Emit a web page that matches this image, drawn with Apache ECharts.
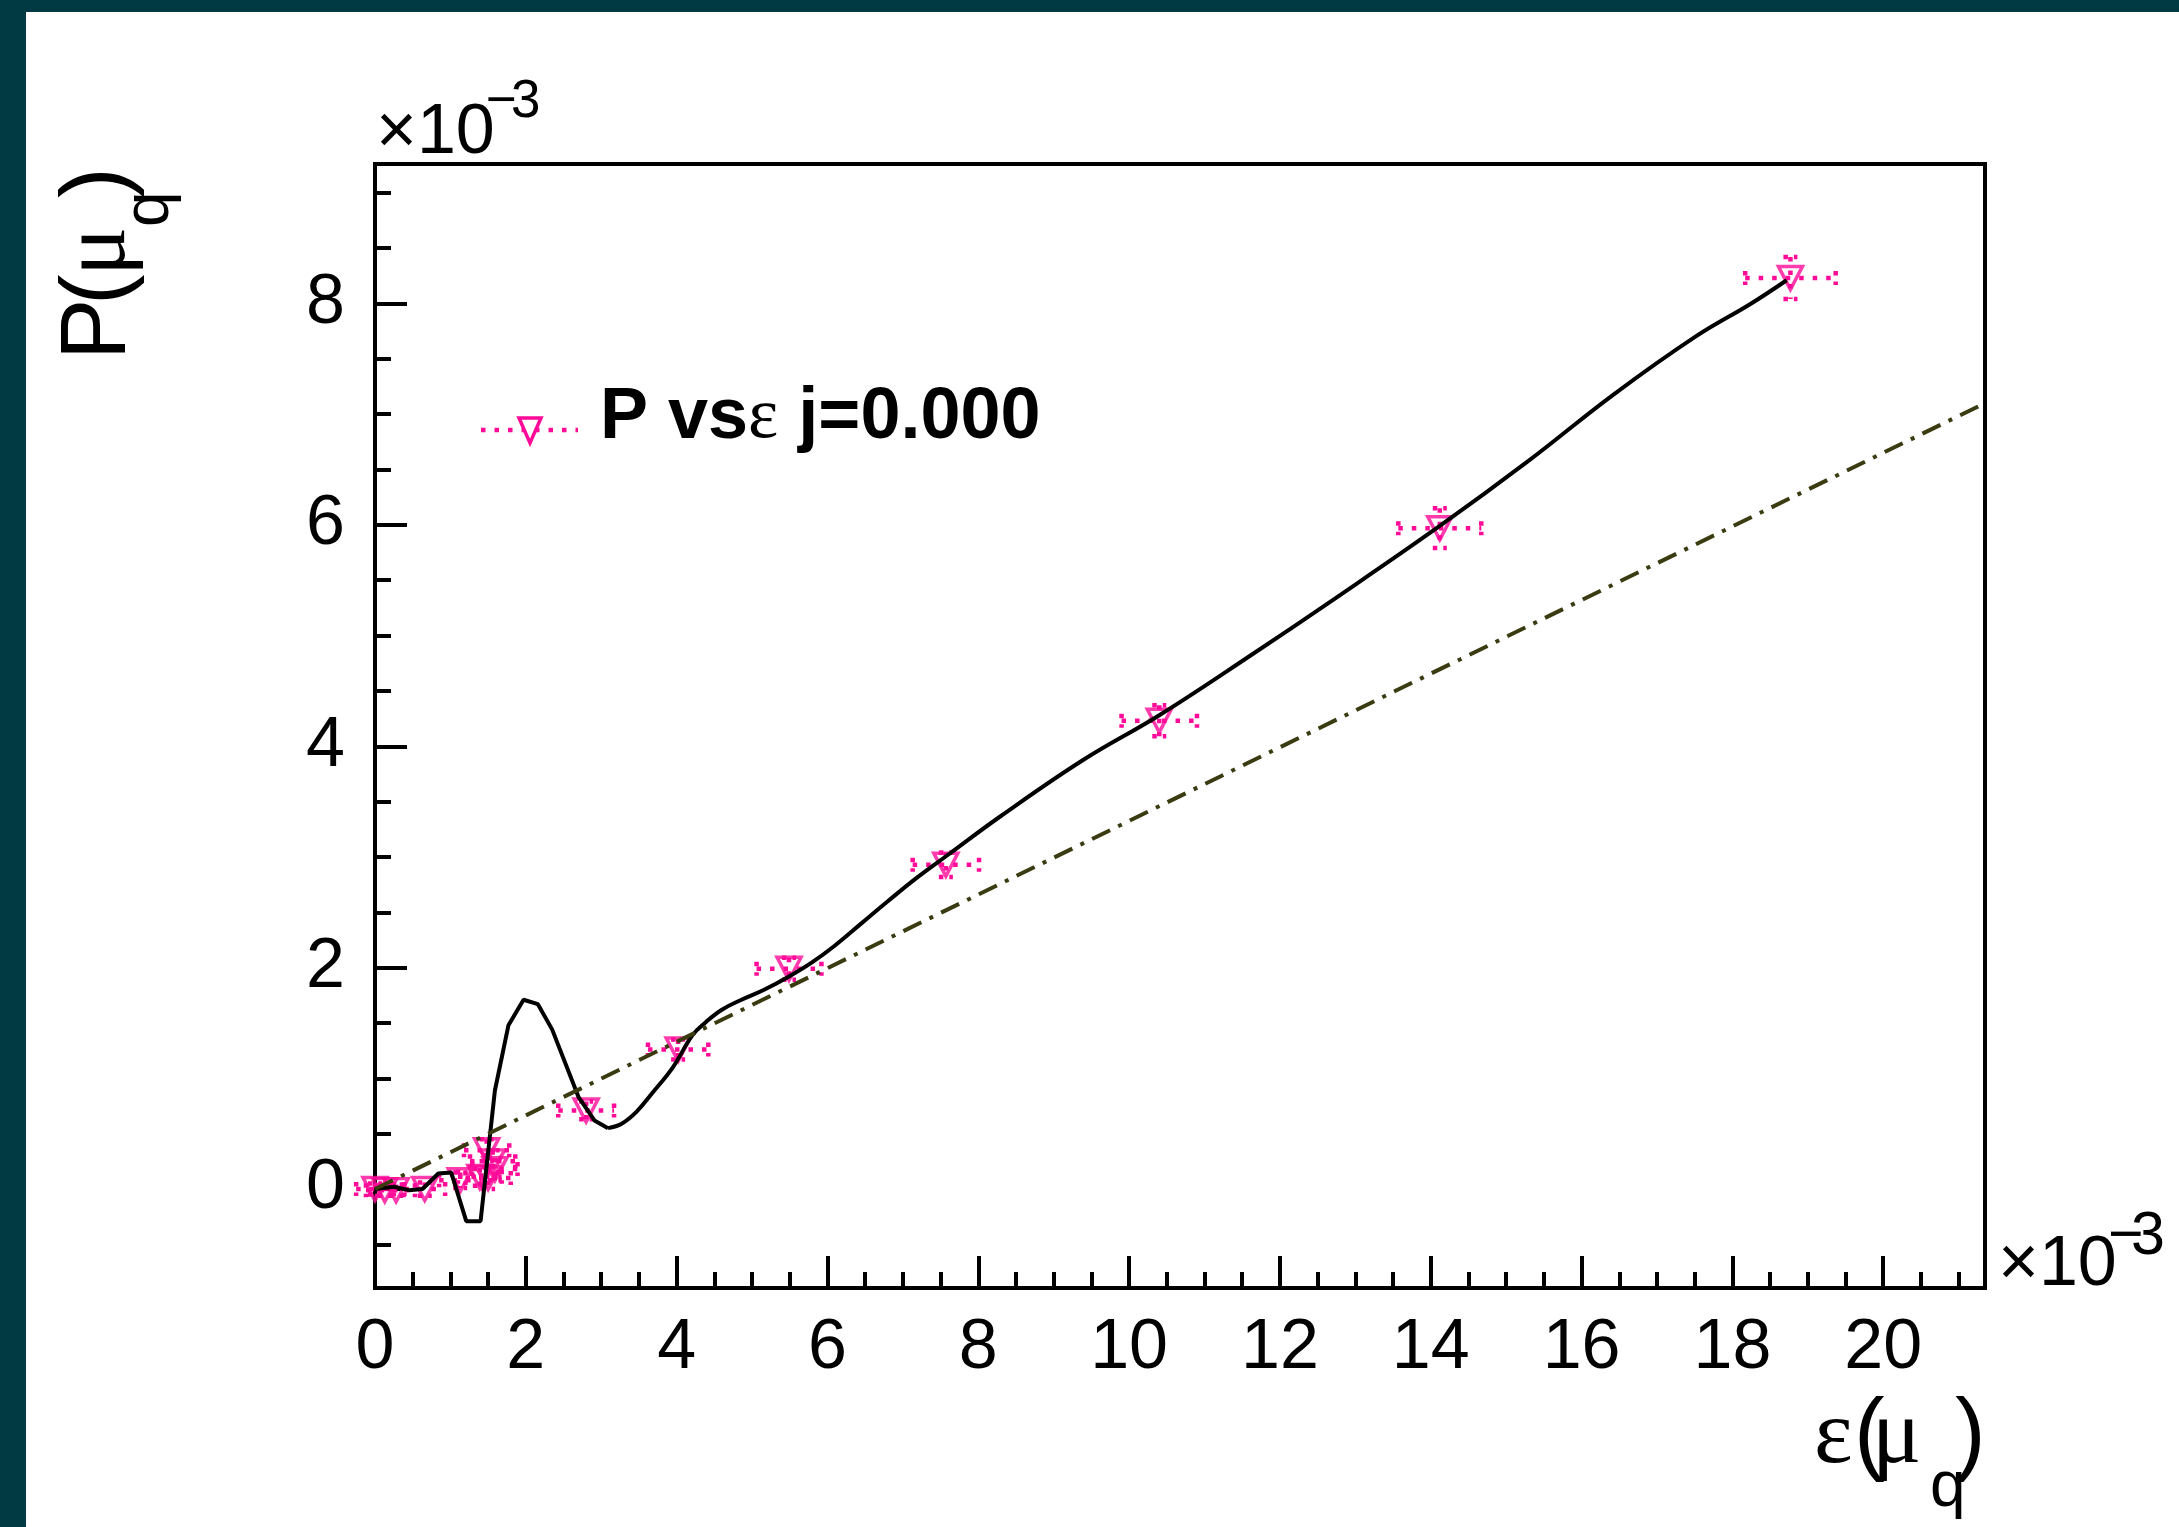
<!DOCTYPE html>
<html><head><meta charset="utf-8">
<script src="https://cdn.jsdelivr.net/npm/echarts@6/dist/echarts.min.js"></script>
<style>html,body{margin:0;padding:0;background:#fff;} #c{width:2179px;height:1527px;}</style>
</head><body><div id="c"></div>
<script>
// ---- data ----
const xMajorTicks = [0, 2, 4, 6, 8, 10, 12, 14, 16, 18, 20];
const yMajorTicks = [0, 2, 4, 6, 8];
const xRange = [0, 21.35];
const yRange = [-0.894, 9.26];

const curveX = [0.00, 0.25, 0.45, 0.63, 0.84, 1.01, 1.21, 1.40, 1.59, 1.77, 1.97, 2.16, 2.35, 2.70, 2.91, 3.09, 3.27, 3.47, 3.68, 3.95, 4.21, 4.39, 4.60, 4.86, 5.16, 5.49, 5.80, 6.10, 6.45, 6.80, 7.20, 7.60, 8.30, 9.40, 10.40, 11.61, 12.72, 14.12, 15.30, 16.41, 17.51, 18.25, 18.72];
const curveY = [0.00, 0.02, -0.01, 0.00, 0.14, 0.15, -0.29, -0.29, 0.89, 1.48, 1.71, 1.67, 1.44, 0.83, 0.62, 0.55, 0.59, 0.70, 0.87, 1.10, 1.39, 1.51, 1.62, 1.71, 1.80, 1.92, 2.05, 2.20, 2.40, 2.60, 2.82, 3.02, 3.37, 3.88, 4.28, 4.82, 5.33, 5.99, 6.58, 7.17, 7.70, 8.00, 8.21];
const curveSmoothFrom = 3.09; // the part of the curve after this x is drawn smoothly

const pointX  = [0.00, 0.13, 0.28, 0.66, 1.13, 1.39, 1.48, 1.56, 1.59, 1.50, 2.80, 4.02, 5.49, 7.57, 10.40, 14.12, 18.77];
const pointY  = [0.00, -0.01, -0.01, 0.00, 0.08, 0.11, 0.35, 0.25, 0.18, 0.10, 0.71, 1.26, 1.99, 2.93, 4.23, 5.97, 8.23];
const pointEX = [0.25, 0.25, 0.25, 0.27, 0.28, 0.29, 0.30, 0.30, 0.30, 0.30, 0.37, 0.40, 0.43, 0.44, 0.50, 0.55, 0.60];
const pointEY = [0.05, 0.05, 0.05, 0.06, 0.07, 0.08, 0.10, 0.10, 0.10, 0.10, 0.08, 0.09, 0.10, 0.11, 0.14, 0.18, 0.19];

const fitX = [0, 21.35];
const fitY = [0, 7.10];

const legendText = ['P vs', 'ε', ' j=0.000'];

// ---- styling ----
const PINK = '#ff0a99';
const OLIVE = '#3b3b12';
const SANS = 'Liberation Sans, Arial, Helvetica, sans-serif';
const SERIF = 'Liberation Serif, Times New Roman, serif';

function minorTicks(lo, hi, step) {
  const out = [];
  for (let v = Math.ceil(lo / step) * step; v <= hi + 1e-9; v += step) out.push(Math.round(v * 1000) / 1000);
  return out;
}
const xMinor = minorTicks(xRange[0], xRange[1], 0.5);
const yMinor = minorTicks(yRange[0], yRange[1], 0.5);

const curveData = curveX.map((x, i) => [x, curveY[i]]);
const curveSharp = curveData.filter(d => d[0] <= curveSmoothFrom);
const curveSmooth = curveData.filter(d => d[0] >= curveSmoothFrom);
const pointData = pointX.map((x, i) => [x, pointY[i]]);
const errData = pointX.map((x, i) => [x, pointY[i], pointEX[i], pointEY[i]]);
const fitData = fitX.map((x, i) => [x, fitY[i]]);

function renderErr(params, api) {
  const x = api.value(0), y = api.value(1), ex = api.value(2), ey = api.value(3);
  const L = api.coord([x - ex, y]), R = api.coord([x + ex, y]);
  const T = api.coord([x, y + ey]), B = api.coord([x, y - ey]);
  const st = { stroke: PINK, lineWidth: 4.5, lineDash: [4.5, 9], fill: null };
  const cs = { stroke: PINK, lineWidth: 4.5, lineDash: [4.5, 6], fill: null };
  const c = 7;
  return {
    type: 'group',
    children: [
      { type: 'line', shape: { x1: L[0], y1: L[1], x2: R[0], y2: R[1] }, style: st },
      { type: 'line', shape: { x1: T[0], y1: T[1], x2: B[0], y2: B[1] }, style: st },
      { type: 'line', shape: { x1: L[0], y1: L[1] - c, x2: L[0], y2: L[1] + c }, style: cs },
      { type: 'line', shape: { x1: R[0], y1: R[1] - c, x2: R[0], y2: R[1] + c }, style: cs },
      { type: 'line', shape: { x1: T[0] - c, y1: T[1], x2: T[0] + c, y2: T[1] }, style: cs },
      { type: 'line', shape: { x1: B[0] - c, y1: B[1], x2: B[0] + c, y2: B[1] }, style: cs }
    ]
  };
}

function txt(x, baseline, text, fs, family, extra) {
  return Object.assign({
    type: 'text', x: x, y: baseline - 0.35 * fs, silent: true,
    style: { text: text, fontSize: fs, fontFamily: family, fill: '#000', align: 'left', verticalAlign: 'middle' }
  }, extra || {});
}
function rtxt(bx, sy, lx, b, text, fs, family) {
  return {
    type: 'text', x: bx + b - 0.35 * fs, y: sy - lx, rotation: Math.PI / 2, silent: true,
    style: { text: text, fontSize: fs, fontFamily: family, fill: '#000', align: 'left', verticalAlign: 'middle' }
  };
}

const graphics = [
  { type: 'rect', shape: { x: 0, y: 0, width: 26, height: 1527 }, style: { fill: '#023a44' }, silent: true },
  { type: 'rect', shape: { x: 0, y: 0, width: 2179, height: 12 }, style: { fill: '#023a44' }, silent: true },
  // y exponent
  txt(376, 158, '×10', 70, SANS),
  txt(486, 121, '−', 53, SANS),
  txt(511, 121, '3', 53, SANS),
  // x exponent
  txt(1998, 1290, '×10', 70, SANS),
  txt(2108, 1259, '−', 61, SANS),
  txt(2131, 1259, '3', 61, SANS),
  // x title  ε(μ_q)
  txt(1814, 1470, 'ε', 92, SERIF),
  txt(1854, 1470, '(', 92, SANS),
  txt(1872, 1470, 'μ', 92, SERIF),
  txt(1930, 1511, 'q', 64, SANS),
  txt(1955, 1470, ')', 92, SANS),
  // y title P(μ_q), rotated
  rtxt(132, 360, 0, 0, 'P', 92, SANS),
  rtxt(132, 360, 55, 0, '(', 92, SANS),
  rtxt(132, 360, 84, 0, 'μ', 92, SERIF),
  rtxt(132, 360, 133, 41, 'q', 64, SANS),
  rtxt(132, 360, 162, 0, ')', 92, SANS),
  // legend
  { type: 'line', shape: { x1: 481, y1: 430, x2: 578, y2: 430 }, style: { stroke: PINK, lineWidth: 4.5, lineDash: [4.5, 9] }, silent: true },
  { type: 'polygon', shape: { points: [[519, 418], [541, 418], [530, 443]] }, style: { stroke: PINK, lineWidth: 3.5, fill: '#fff' }, silent: true },
  {
    type: 'text', x: 600, y: 444 - 0.35 * 73, silent: true,
    style: {
      text: '{b|' + legendText[0] + '}{e|' + legendText[1] + '}{b|' + legendText[2] + '}',
      verticalAlign: 'middle', align: 'left',
      rich: {
        b: { fontSize: 72, fontWeight: 'bold', fontFamily: SANS, fill: '#000' },
        e: { fontSize: 72, fontFamily: SERIF, fill: '#000' }
      }
    }
  }
];

const axisBase = (dimMin, dimMax) => ({ type: 'value', min: dimMin, max: dimMax, splitLine: { show: false } });

const option = {
  animation: false,
  backgroundColor: '#fff',
  grid: { left: 375, top: 164, width: 1610, height: 1124, show: true, borderColor: '#000', borderWidth: 4, backgroundColor: 'rgba(0,0,0,0)' },
  xAxis: [
    Object.assign(axisBase(xRange[0], xRange[1]), {
      position: 'bottom',
      axisLine: { show: true, onZero: false, lineStyle: { color: '#000', width: 4 } },
      axisTick: { show: true, inside: true, length: 32, customValues: xMajorTicks, lineStyle: { color: '#000', width: 4 } },
      axisLabel: { show: true, customValues: xMajorTicks, fontSize: 70, fontFamily: SANS, color: '#000', margin: 26 }
    }),
    Object.assign(axisBase(xRange[0], xRange[1]), {
      position: 'bottom',
      axisLine: { show: false, onZero: false },
      axisTick: { show: true, inside: true, length: 16, customValues: xMinor, lineStyle: { color: '#000', width: 4 } },
      axisLabel: { show: false }
    })
  ],
  yAxis: [
    Object.assign(axisBase(yRange[0], yRange[1]), {
      position: 'left',
      axisLine: { show: true, onZero: false, lineStyle: { color: '#000', width: 4 } },
      axisTick: { show: true, inside: true, length: 32, customValues: yMajorTicks, lineStyle: { color: '#000', width: 4 } },
      axisLabel: { show: true, customValues: yMajorTicks, fontSize: 70, fontFamily: SANS, color: '#000', margin: 30 }
    }),
    Object.assign(axisBase(yRange[0], yRange[1]), {
      position: 'left',
      axisLine: { show: false, onZero: false },
      axisTick: { show: true, inside: true, length: 16, customValues: yMinor, lineStyle: { color: '#000', width: 4 } },
      axisLabel: { show: false }
    })
  ],
  series: [
    {
      type: 'custom', name: 'errors', xAxisIndex: 0, yAxisIndex: 0, renderItem: renderErr,
      data: errData, encode: { x: 0, y: 1 }, z: 2, silent: true
    },
    {
      type: 'scatter', name: 'P vs ε j=0.000', xAxisIndex: 0, yAxisIndex: 0, data: pointData,
      symbol: 'triangle', symbolRotate: 180, symbolSize: [24, 23],
      itemStyle: { color: 'rgba(0,0,0,0)', borderColor: PINK, borderWidth: 3.5 }, z: 3, silent: true
    },
    {
      type: 'line', name: 'curve', xAxisIndex: 0, yAxisIndex: 0, data: curveSharp, showSymbol: false, symbol: 'none',
      lineStyle: { color: '#000', width: 4 }, z: 4, silent: true, clip: true
    },
    {
      type: 'line', name: 'curve-smooth', xAxisIndex: 0, yAxisIndex: 0, data: curveSmooth, showSymbol: false, symbol: 'none',
      smooth: 0.4, lineStyle: { color: '#000', width: 4 }, z: 4, silent: true, clip: true
    },
    {
      type: 'line', name: 'fit', xAxisIndex: 0, yAxisIndex: 0, data: fitData, showSymbol: false, symbol: 'none',
      lineStyle: { color: OLIVE, width: 4, type: [20, 9, 4, 9] }, z: 4, silent: true, clip: true
    }
  ],
  graphic: graphics
};

const chart = echarts.init(document.getElementById('c'), null, { renderer: 'canvas' });
chart.setOption(option);
</script>
</body></html>
